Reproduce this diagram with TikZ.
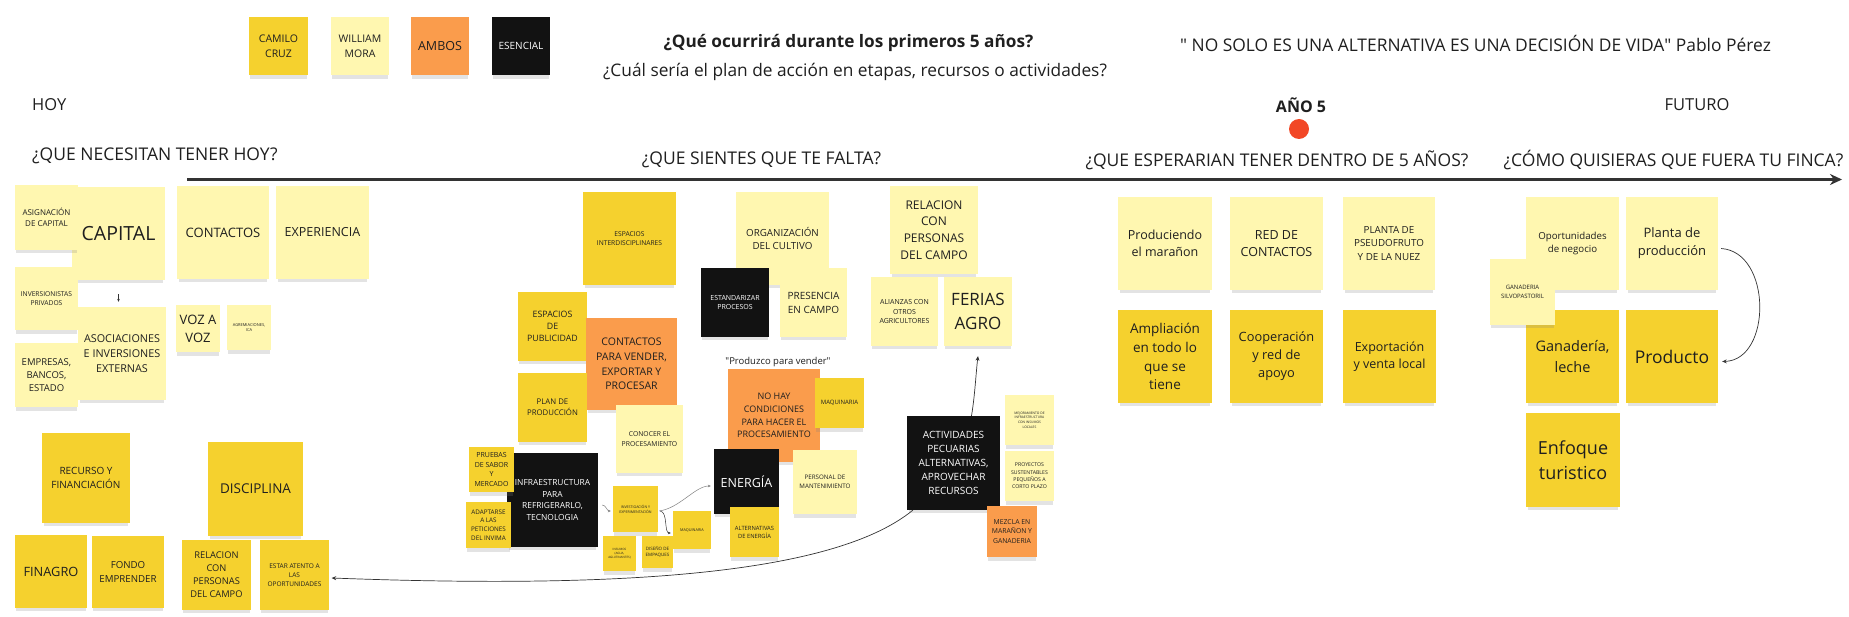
\documentclass[tikz,border=0pt]{standalone}
\usepackage{fontspec}
\setmainfont{Open Sans}
\newfontfamily\qf{Open Sans}
\usetikzlibrary{arrows.meta,shadows}
\definecolor{cam}{HTML}{F5D12E}
\definecolor{wil}{HTML}{FFF7B0}
\definecolor{amb}{HTML}{FA9C4C}
\definecolor{esc}{HTML}{121212}
\definecolor{ink}{HTML}{1F1F1F}
\definecolor{reddot}{HTML}{F24726}
\definecolor{lineg}{HTML}{333333}
\newcommand\nfs[1]{\fontsize{#1}{#1}\selectfont\baselineskip=1.4\baselineskip}
\newcommand\sq{{\qf\symbol{34}}}
\begin{document}
\begin{tikzpicture}[x=1pt,y=-1pt,
  note/.style={align=center, inner sep=0pt, text=ink,
    drop shadow={shadow xshift=0pt,shadow yshift=-5pt,shadow scale=0.96,opacity=0.22}},
  sz/.style 2 args={minimum width=#1pt,minimum height=#2pt},
  cy/.style={fill=cam}, wy/.style={fill=wil}, am/.style={fill=amb},
  bk/.style={fill=esc,text=white},
  lbl/.style={text=ink,inner sep=0pt},
  arr/.style={draw=lineg,line width=0.7pt,-{Stealth[length=4.5pt,width=4pt]}},
  sarr/.style={draw=gray,line width=0.5pt,-{Stealth[length=3pt,width=2.6pt]}},
]
\fill[white] (0,0) rectangle (1849,617);
\useasboundingbox (0,0) rectangle (1849,617);

% legend
\node[note,cy,sz={59}{58},font=\nfs{10.5}] (leg1) at (278.5,46) {CAMILO\\CRUZ};
\node[note,wy,sz={58}{58},font=\nfs{10.5}] (leg2) at (360,46) {WILLIAM\\MORA};
\node[note,am,sz={58}{58},font=\nfs{12.5}] (leg3) at (440,46) {AMBOS};
\node[note,bk,sz={58}{58},font=\nfs{10}] (leg4) at (521,46) {ESENCIAL};

% titles
\node[lbl,font=\bfseries\nfs{17.2}] (q1) at (848.5,43) {¿Qué ocurrirá durante los primeros 5 años?};
\node[lbl,font=\nfs{17.3}] (q2) at (855,72) {¿Cuál sería el plan de acción en etapas, recursos o actividades?};
\node[lbl,font=\nfs{17.4}] (quote) at (1475.5,43) {\sq{} NO SOLO ES UNA ALTERNATIVA ES UNA DECISIÓN DE VIDA\sq{} Pablo Pérez};
\node[lbl,font=\nfs{16.5},anchor=west] (hoy) at (32,105) {HOY};
\node[lbl,font=\bfseries\nfs{16}] (ano) at (1301,105) {AÑO 5};
\fill[reddot] (1299,129) circle (10);
\node[lbl,font=\nfs{16.5}] (futuro) at (1697,105) {FUTURO};
\node[lbl,font=\nfs{17.5},anchor=west] (h1) at (32,156) {¿QUE NECESITAN TENER HOY?};
\node[lbl,font=\nfs{17.5}] (h2) at (761.5,160) {¿QUE SIENTES QUE TE FALTA?};
\node[lbl,font=\nfs{17.5}] (h3) at (1277,160) {¿QUE ESPERARIAN TENER DENTRO DE 5 AÑOS?};
\node[lbl,font=\nfs{17.5}] (h4) at (1673.5,160) {¿CÓMO QUISIERAS QUE FUERA TU FINCA?};

% timeline
\coordinate (tl0) at (187,179.5);
\coordinate (tl1) at (1842,179.5);
\draw[draw=lineg,line width=3pt,-{Stealth[length=12pt,width=11pt]}] (tl0) -- (tl1);

% left block
\node[note,wy,sz={93}{93},font=\nfs{19.5}] (capital) at (118.5,233.5) {CAPITAL};
\node[note,wy,sz={63}{65},font=\nfs{8}] (asig) at (46.5,217.5) {ASIGNACIÓN\\DE CAPITAL};
\node[note,wy,sz={63}{63},font=\nfs{6.7}] (inver) at (46.5,298.5) {INVERSIONISTAS\\PRIVADOS};
\node[note,wy,sz={88}{93},font=\nfs{10.8}] (asoc) at (122,353.5) {ASOCIACIONES\\E INVERSIONES\\EXTERNAS};
\node[note,wy,sz={63}{64},font=\nfs{9.5}] (empresas) at (46.5,375) {EMPRESAS,\\BANCOS,\\ESTADO};
\node[note,wy,sz={92}{93},font=\nfs{13}] (contactos) at (223,232.5) {CONTACTOS};
\node[note,wy,sz={93}{93},font=\nfs{12.5}] (experiencia) at (322.5,232.5) {EXPERIENCIA};
\node[note,wy,sz={44}{47},font=\nfs{13}] (voz) at (198,328.5) {VOZ A\\VOZ};
\node[note,wy,sz={44}{45},font=\nfs{4}] (agrem) at (249,327.5) {AGREMIACIONES,\\ICA};
\node[note,cy,sz={88}{90},font=\nfs{10}] (recurso) at (86,478) {RECURSO Y\\FINANCIACIÓN};
\node[note,cy,sz={95}{94},font=\nfs{13.5}] (disciplina) at (255.5,489) {DISCIPLINA};
\node[note,cy,sz={72}{73},font=\nfs{12.8}] (finagro) at (51,571.5) {FINAGRO};
\node[note,cy,sz={72}{72},font=\nfs{9.7}] (fondo) at (128,572) {FONDO\\EMPRENDER};
\node[note,cy,sz={69}{70},font=\nfs{9.3}] (relcampoa) at (216.5,575) {RELACION\\CON\\PERSONAS\\DEL CAMPO};
\node[note,cy,sz={69}{70},font=\nfs{6.5}] (estar) at (294.5,575) {ESTAR ATENTO A\\LAS\\OPORTUNIDADES};

% middle-left block
\node[note,cy,sz={93}{93},font=\nfs{6.7}] (espint) at (629.5,238.5) {ESPACIOS\\INTERDISCIPLINARES};
\node[note,cy,sz={69}{69},font=\nfs{8.8}] (esppub) at (552.5,326.5) {ESPACIOS\\DE\\PUBLICIDAD};
\node[note,am,sz={91}{92},font=\nfs{10.5}] (contvend) at (631.5,364) {CONTACTOS\\PARA VENDER,\\EXPORTAR Y\\PROCESAR};
\node[note,cy,sz={69}{69},font=\nfs{7.8}] (planprod) at (552.5,407.5) {PLAN DE\\PRODUCCIÓN};
\node[note,wy,sz={67}{68},font=\nfs{6.8}] (conocer) at (649.5,439) {CONOCER EL\\PROCESAMIENTO};
\node[note,bk,sz={91}{94},font=\nfs{8.4}] (infra) at (552.5,500) {INFRAESTRUCTURA\\PARA\\REFRIGERARLO,\\TECNOLOGIA};
\node[note,cy,sz={45}{45},font=\nfs{7}] (pruebas) at (491.5,469.5) {PRUEBAS\\DE SABOR\\Y\\MERCADO};
\node[note,cy,sz={45}{46},font=\nfs{6.3}] (adapt) at (488.5,525) {ADAPTARSE\\A LAS\\PETICIONES\\DEL INVIMA};
\node[note,cy,sz={45}{46},font=\nfs{3.6}] (invest) at (635.5,509) {INVESTIGACIÓN Y\\EXPERIMENTACIÓN};
\node[note,cy,sz={38}{38},font=\nfs{3.8}] (maqb) at (692,530) {MAQUINARIA};
\node[note,cy,sz={33}{35},font=\nfs{3}] (insumos) at (619.5,553.5) {INSUMOS\\(AGUA,\\AGLUTINANTES)};
\node[note,cy,sz={31}{32},font=\nfs{4.5}] (empaq) at (657.5,552) {DISEÑO DE\\EMPAQUES};

% middle block
\node[note,wy,sz={93}{93},font=\nfs{9.8}] (organiz) at (782.5,238.5) {ORGANIZACIÓN\\DEL CULTIVO};
\node[note,bk,sz={68}{69},font=\nfs{7}] (estand) at (735,302.5) {ESTANDARIZAR\\PROCESOS};
\node[note,wy,sz={67}{69},font=\nfs{10}] (presencia) at (813.5,302.5) {PRESENCIA\\EN CAMPO};
\node[note,wy,sz={88}{88},font=\nfs{12}] (relcampob) at (934,230) {RELACION\\CON\\PERSONAS\\DEL CAMPO};
\node[note,wy,sz={67}{69},font=\nfs{7}] (alianzas) at (904.5,311.5) {ALIANZAS CON\\OTROS\\AGRICULTORES};
\node[note,wy,sz={68}{69},font=\nfs{17}] (ferias) at (978,311.5) {FERIAS\\AGRO};
\node[lbl,font=\nfs{9.5}] (produzco) at (778,362) {\sq Produzco para vender\sq};
\node[note,am,sz={92}{93},font=\nfs{9}] (nohay) at (774,415.5) {NO HAY\\CONDICIONES\\PARA HACER EL\\PROCESAMIENTO};
\node[note,cy,sz={49}{50},font=\nfs{6}] (maqa) at (839.5,403) {MAQUINARIA};
\node[note,bk,sz={65}{65},font=\nfs{12.5}] (energia) at (746.5,481.5) {ENERGÍA};
\node[note,wy,sz={64}{64},font=\nfs{6.2}] (personal) at (825,482) {PERSONAL DE\\MANTENIMIENTO};
\node[note,cy,sz={49}{50},font=\nfs{5.8}] (altene) at (754.5,532) {ALTERNATIVAS\\DE ENERGÍA};
\node[note,bk,sz={93}{94},font=\nfs{10}] (activ) at (953.5,463) {ACTIVIDADES\\PECUARIAS\\ALTERNATIVAS,\\APROVECHAR\\RECURSOS};
\node[note,wy,sz={49}{50},font=\nfs{3.3}] (mejora) at (1029.5,420) {MEJORAMIENTO DE\\INFRAESTRUCTURA\\CON INSUMOS\\LOCALES};
\node[note,wy,sz={49}{50},font=\nfs{5.2}] (proyectos) at (1029.5,476) {PROYECTOS\\SUSTENTABLES\\PEQUEÑOS A\\CORTO PLAZO};
\node[note,am,sz={50}{51},font=\nfs{6.8}] (mezcla) at (1012,531.5) {MEZCLA EN\\MARAÑON Y\\GANADERIA};

% right block (año 5)
\node[note,wy,sz={94}{93},font=\nfs{12.5}] (produc) at (1165,243.5) {Produciendo\\el marañon};
\node[note,wy,sz={93}{93},font=\nfs{12.5}] (red) at (1276.5,243.5) {RED DE\\CONTACTOS};
\node[note,wy,sz={92}{93},font=\nfs{9.8}] (pseudo) at (1389,243.5) {PLANTA DE\\PSEUDOFRUTO\\Y DE LA NUEZ};
\node[note,cy,sz={94}{93},font=\nfs{13.5}] (ampl) at (1165,356.5) {Ampliación\\en todo lo\\que se\\tiene};
\node[note,cy,sz={93}{93},font=\nfs{12.8}] (coop) at (1276.5,356.5) {Cooperación\\y red de\\apoyo};
\node[note,cy,sz={93}{93},font=\nfs{12.5}] (expo) at (1389.5,356.5) {Exportación\\y venta local};

% future block
\node[note,wy,sz={93}{93},font=\nfs{9.7}] (oport) at (1572.5,243.5) {Oportunidades\\de negocio};
\node[note,wy,sz={92}{93},font=\nfs{13}] (plantap) at (1672,243.5) {Planta de\\producción};
\node[note,cy,sz={93}{93},font=\nfs{14.5}] (ganleche) at (1572.5,356.5) {Ganadería,\\leche};
\node[note,wy,sz={65}{66},font=\nfs{6}] (silvo) at (1522.5,292) {GANADERIA\\SILVOPASTORIL};
\node[note,cy,sz={92}{93},font=\nfs{17.5}] (producto) at (1672,356.5) {Producto};
\node[note,cy,sz={94}{94},font=\nfs{18}] (enfoque) at (1573,460) {Enfoque\\turistico};

% connectors
\draw[arr,line width=0.5pt,-{Stealth[length=3pt,width=2.6pt]}] ([yshift=-14pt]capital.south) -- ([shift={(-3.5pt,5pt)}]asoc.north);
\draw[sarr] ([shift={(4pt,-5pt)}]infra.east) .. controls (606,505) and (607,511) .. ([shift={(-2pt,-2pt)}]invest.west);
\draw[sarr] ([shift={(1pt,-2pt)}]invest.east) .. controls (680,508) and (695,486) .. ([shift={(-3pt,-4.5pt)}]energia.west);
\draw[arr,line width=0.5pt,-{Stealth[length=3pt,width=2.6pt]}] ([shift={(2pt,-2pt)}]invest.east) .. controls (668,512) and (664,533) .. ([shift={(-2pt,-3pt)}]maqb.west);
\draw[arr] ([xshift=18pt]activ.north) .. controls (975,395) and (976,372) .. ([yshift=-10pt]ferias.south);
\draw[arr] ([xshift=6pt]activ.south west) .. controls (830,578) and (600,588) .. ([shift={(2.5pt,-3pt)}]estar.east);
\draw[arr] ([shift={(3pt,-5pt)}]plantap.east) .. controls (1772,252) and (1772,360) .. ([shift={(4pt,-5pt)}]producto.east);
\end{tikzpicture}
\end{document}
